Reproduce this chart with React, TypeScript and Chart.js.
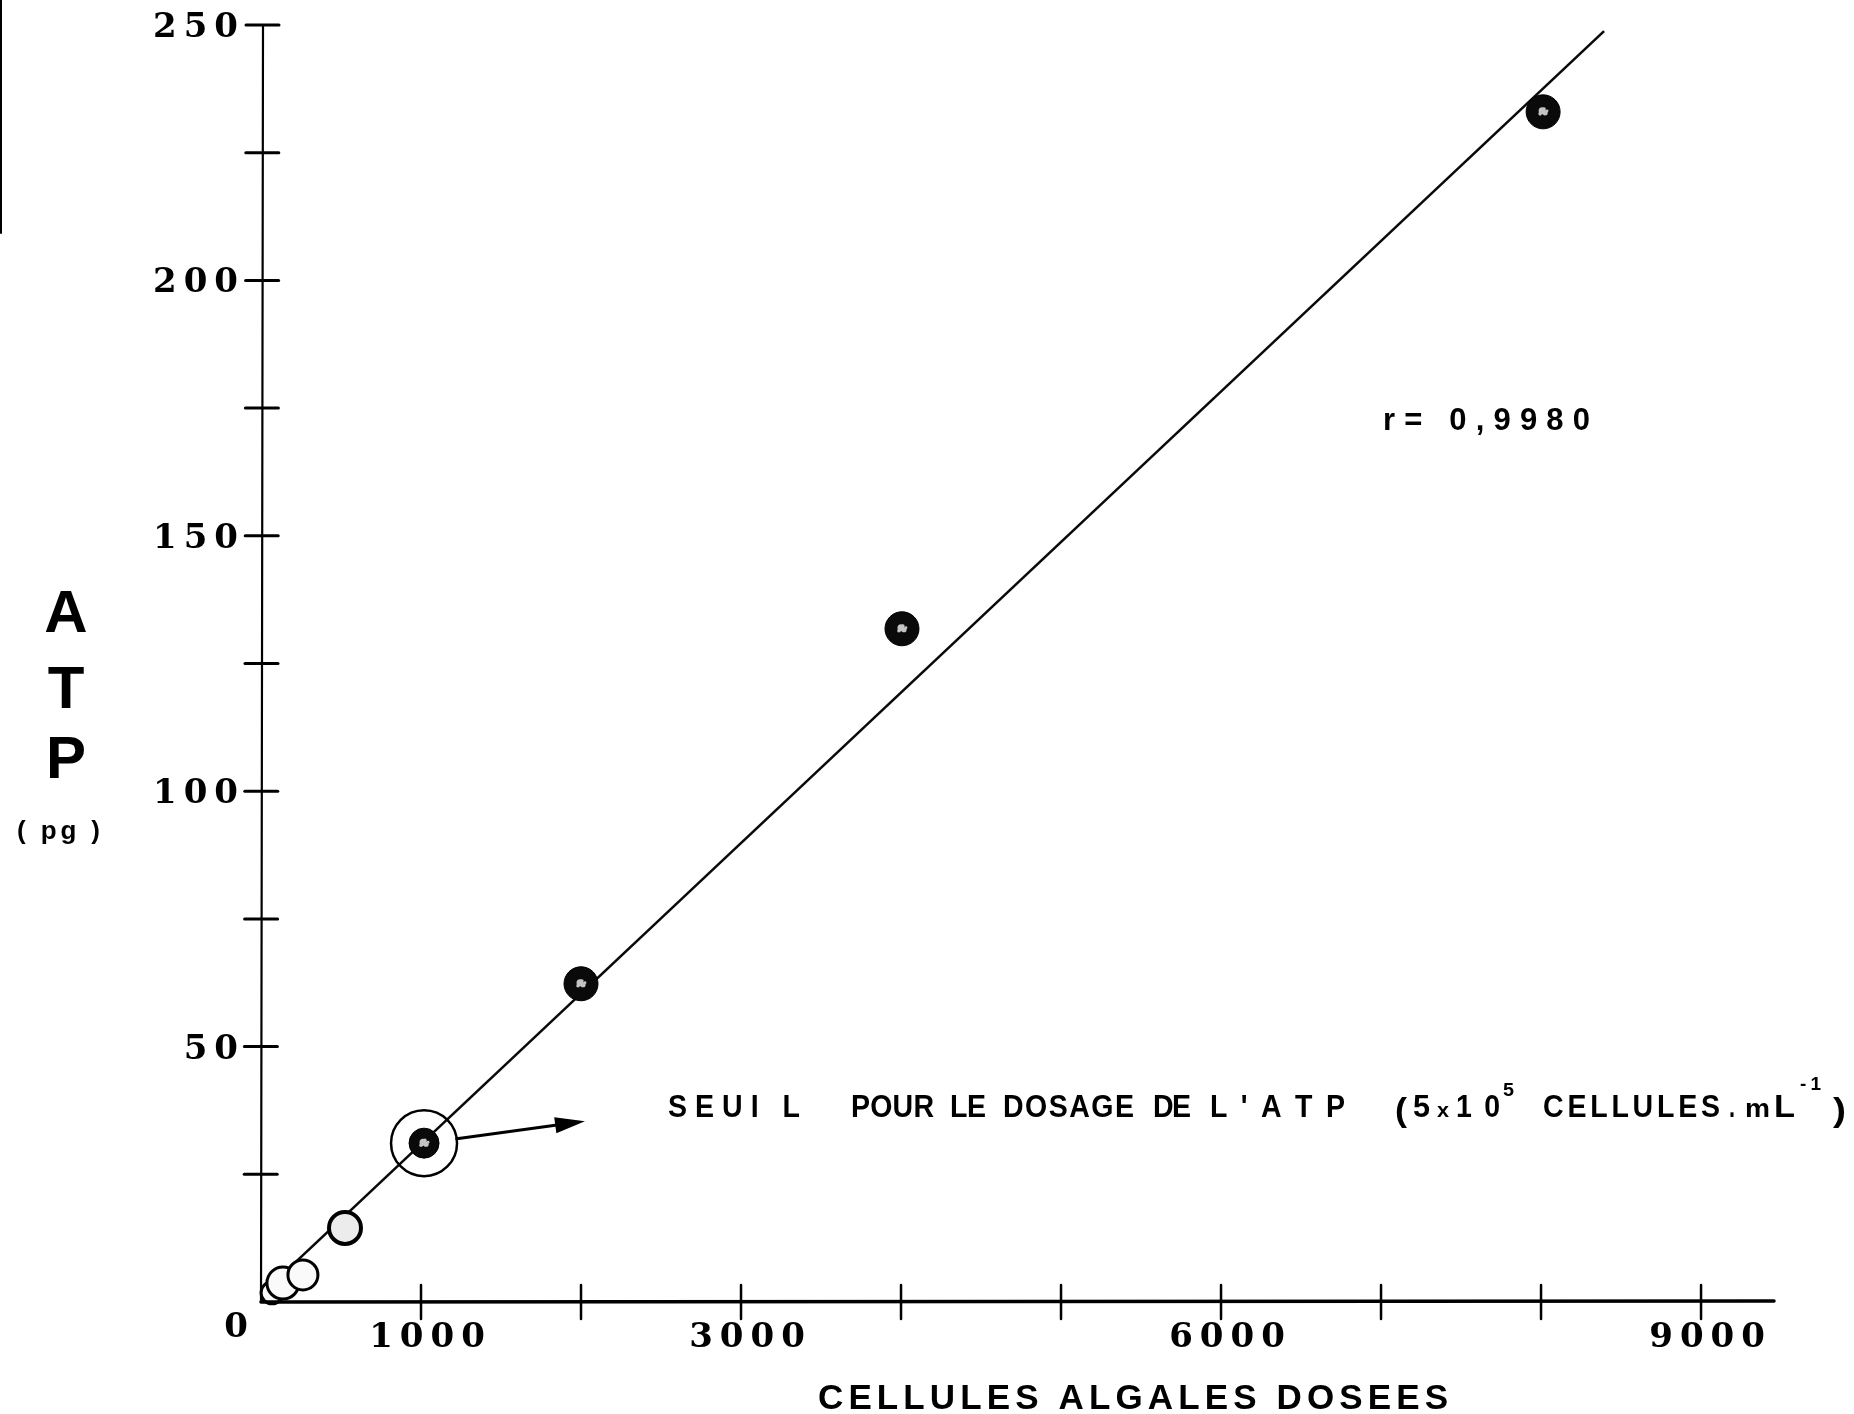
import React, { useEffect, useRef } from 'react';
import { Chart, registerables } from 'chart.js';
Chart.register(...registerables);

// ---- data ----
const cellCounts = [69, 137, 262, 525, 1019, 2000, 4006, 8013];
const atpPg = [1.8, 3.7, 5.3, 14.5, 31.1, 62.3, 131.8, 233.0];
const pointRadii = [11, 16, 15, 16, 15, 17, 17, 17];
const pointFills = ['#fafafa', '#fafafa', '#fafafa', '#ececec', '#0a0a0a', '#0a0a0a', '#0a0a0a', '#0a0a0a'];
const pointBorders = [3, 3, 3, 4, 1, 1, 1, 1];
const regressionX = [60, 8394];
const regressionY = [3.2, 248.8];
const thresholdIndex = 4;
const arrowTipX = 2025;
const arrowTipY = 35.4;

const xMin = 0;
const xMax = 9456;
const yMin = 0;
const yMax = 250;
const xTickValues = [1000, 2000, 3000, 4000, 5000, 6000, 7000, 8000, 9000];
const xTickLabels = ['1000', '', '3000', '', '', '6000', '', '', '9000'];
const yTickValues = [25, 50, 75, 100, 125, 150, 175, 200, 225, 250];
const yTickLabels = ['', '50', '', '100', '', '150', '', '200', '', '250'];

const yTitleLetters = ['A', 'T', 'P'];
const yTitleUnit = '( pg )';
const xTitle = 'CELLULES ALGALES DOSEES';
const corrText = 'r= 0,9980';

function spacedWidth(ctx: CanvasRenderingContext2D, text: string, sp: number, sx = 1) {
  let w = 0;
  for (const ch of text) w += ctx.measureText(ch).width * sx;
  return w + sp * (Array.from(text).length - 1);
}
function drawSpaced(ctx: CanvasRenderingContext2D, text: string, x: number, y: number, align: string, sp: number, sx = 1) {
  const w = spacedWidth(ctx, text, sp, sx);
  let cx = align === 'center' ? x - w / 2 : align === 'right' ? x - w : x;
  ctx.textAlign = 'left';
  for (const ch of text) {
    ctx.save();
    ctx.translate(cx, y);
    ctx.scale(sx, 1);
    ctx.fillText(ch, 0, 0);
    ctx.restore();
    cx += ctx.measureText(ch).width * sx + sp;
  }
}
function drawSpacedFit(ctx: CanvasRenderingContext2D, text: string, x0: number, x1: number, y: number, sx = 1) {
  const chars = Array.from(text);
  let w = 0;
  for (const ch of chars) w += ctx.measureText(ch).width * sx;
  if (chars.length === 1) {
    drawSpaced(ctx, text, x0, y, 'left', 0, (x1 - x0) / (w / sx));
    return;
  }
  const sp = (x1 - x0 - w) / (chars.length - 1);
  drawSpaced(ctx, text, x0, y, 'left', sp, sx);
}

const decorPlugin = {
  id: 'decor',
  afterDatasetsDraw(chart: any) {
    const ctx: CanvasRenderingContext2D = chart.ctx;
    const xs = chart.scales.x;
    const ys = chart.scales.y;
    const x0 = xs.getPixelForValue(0);
    const y0 = ys.getPixelForValue(0);
    ctx.save();
    ctx.strokeStyle = '#000';
    ctx.fillStyle = '#000';
    ctx.lineCap = 'round';

    // axes
    ctx.lineWidth = 2.2;
    ctx.beginPath();
    ctx.moveTo(x0 + 2, ys.getPixelForValue(yMax));
    ctx.lineTo(x0, y0);
    ctx.stroke();
    ctx.lineWidth = 3.5;
    ctx.beginPath();
    ctx.moveTo(x0, y0);
    ctx.lineTo(xs.getPixelForValue(xMax), y0 - 1);
    ctx.stroke();

    // y ticks
    ctx.lineWidth = 3;
    yTickValues.forEach((v) => {
      const py = ys.getPixelForValue(v);
      const ax = x0 + 2 * (v / yMax);
      ctx.beginPath();
      ctx.moveTo(ax - 17, py);
      ctx.lineTo(ax + 16, py);
      ctx.stroke();
    });
    // x ticks
    ctx.lineWidth = 2.5;
    xTickValues.forEach((v) => {
      const px = xs.getPixelForValue(v);
      ctx.beginPath();
      ctx.moveTo(px, y0 - 17);
      ctx.lineTo(px, y0 + 17);
      ctx.stroke();
    });

    // tick labels
    ctx.font = 'bold 34px "DejaVu Serif"';
    ctx.textBaseline = 'alphabetic';
    yTickValues.forEach((v, i) => {
      if (!yTickLabels[i]) return;
      drawSpaced(ctx, yTickLabels[i], 238, ys.getPixelForValue(v) + 12, 'right', 7);
    });
    xTickValues.forEach((v, i) => {
      if (!xTickLabels[i]) return;
      drawSpaced(ctx, xTickLabels[i], xs.getPixelForValue(v) + 6, y0 + 45, 'center', 7);
    });
    drawSpaced(ctx, '0', x0 - 25, y0 + 35, 'center', 0);

    // threshold ring + arrow
    const meta = chart.getDatasetMeta(0);
    const pt = meta.data[thresholdIndex];
    const cx = pt.x;
    const cy = pt.y;
    ctx.lineWidth = 2.5;
    ctx.beginPath();
    ctx.arc(cx, cy, 33, 0, Math.PI * 2);
    ctx.stroke();
    const tx = xs.getPixelForValue(arrowTipX);
    const ty = ys.getPixelForValue(arrowTipY);
    const ang = Math.atan2(ty - cy, tx - cx);
    const sx = cx + 33 * Math.cos(ang);
    const sy = cy + 33 * Math.sin(ang);
    const hx = tx - 30 * Math.cos(ang);
    const hy = ty - 30 * Math.sin(ang);
    ctx.lineWidth = 3;
    ctx.beginPath();
    ctx.moveTo(sx, sy);
    ctx.lineTo(hx, hy);
    ctx.stroke();
    ctx.beginPath();
    ctx.moveTo(tx, ty);
    ctx.lineTo(hx + 8 * Math.sin(ang), hy - 8 * Math.cos(ang));
    ctx.lineTo(hx - 8 * Math.sin(ang), hy + 8 * Math.cos(ang));
    ctx.closePath();
    ctx.fill();

    // speckled highlights on dark points
    ctx.fillStyle = '#c4c4c4';
    const spots = [[-1, -1, 3.5], [2, 1, 2.6], [-3, 2, 1.8], [1, -3, 1.6], [4, -1, 1.4]];
    meta.data.forEach((el: any, i: number) => {
      if (pointFills[i] !== '#0a0a0a') return;
      spots.forEach(([dx, dy, r]) => {
        ctx.beginPath();
        ctx.arc(el.x + dx, el.y + dy, r, 0, Math.PI * 2);
        ctx.fill();
      });
    });

    // annotation text
    ctx.fillStyle = '#000';
    ctx.font = 'bold 31px "Liberation Sans"';
    const base = 1117;
    const cs = 0.92;
    drawSpacedFit(ctx, 'SEUI L', 668, 800, base, cs);
    drawSpacedFit(ctx, 'POUR', 851, 934, base, cs);
    drawSpacedFit(ctx, 'LE', 950, 986, base, cs);
    drawSpacedFit(ctx, 'DOSAGE', 1003, 1134, base, cs);
    drawSpacedFit(ctx, 'DE', 1153, 1191, base, cs);
    drawSpacedFit(ctx, "L'ATP", 1210, 1345, base, cs);
    ctx.font = 'bold 34px "Liberation Sans"';
    drawSpacedFit(ctx, '(', 1395, 1407, base + 4);
    ctx.font = 'bold 31px "Liberation Sans"';
    drawSpacedFit(ctx, '5', 1413, 1430, base);
    ctx.font = 'bold 20px "Liberation Sans"';
    drawSpacedFit(ctx, 'x', 1437, 1449, base);
    ctx.font = 'bold 31px "Liberation Sans"';
    drawSpacedFit(ctx, '10', 1456, 1500, base, cs);
    ctx.font = 'bold 19px "Liberation Sans"';
    drawSpacedFit(ctx, '5', 1503, 1514, base - 21);
    ctx.font = 'bold 31px "Liberation Sans"';
    drawSpacedFit(ctx, 'CELLULES', 1543, 1720, base, cs);
    drawSpacedFit(ctx, '.', 1729, 1735, base);
    ctx.font = 'bold 26px "Liberation Sans"';
    drawSpacedFit(ctx, 'm', 1745, 1770, base);
    ctx.font = 'bold 31px "Liberation Sans"';
    drawSpacedFit(ctx, 'L', 1774, 1795, base);
    ctx.font = 'bold 19px "Liberation Sans"';
    drawSpacedFit(ctx, '-1', 1800, 1821, base - 27);
    ctx.font = 'bold 34px "Liberation Sans"';
    drawSpacedFit(ctx, ')', 1833, 1846, base + 4);

    // correlation
    ctx.font = 'bold 31px "Liberation Sans"';
    drawSpacedFit(ctx, corrText, 1383, 1590, 430);

    // axis titles
    ctx.font = 'bold 35px "Liberation Sans"';
    drawSpacedFit(ctx, xTitle, 818, 1448, 1409);
    ctx.font = 'bold 60px "Liberation Sans"';
    const ys3 = [632, 708, 778];
    yTitleLetters.forEach((l, i) => drawSpaced(ctx, l, 66, ys3[i], 'center', 0));
    ctx.font = 'bold 26px "Liberation Sans"';
    drawSpacedFit(ctx, yTitleUnit, 17, 100, 839);

    // scan edge line at left border
    ctx.lineWidth = 2;
    ctx.beginPath();
    ctx.moveTo(1, 0);
    ctx.lineTo(1, 233);
    ctx.stroke();

    ctx.restore();
  },
};

export default function App() {
  const ref = useRef<HTMLCanvasElement | null>(null);
  useEffect(() => {
    if (!ref.current) return;
    const chart = new Chart(ref.current, {
      type: 'scatter',
      data: {
        datasets: [
          {
            label: 'ATP',
            data: cellCounts.map((x, i) => ({ x, y: atpPg[i] })),
            pointRadius: pointRadii,
            pointBackgroundColor: pointFills,
            pointBorderColor: '#000',
            pointBorderWidth: pointBorders,
            order: 0,
            clip: false as any,
          },
          {
            label: 'regression',
            data: regressionX.map((x, i) => ({ x, y: regressionY[i] })),
            showLine: true,
            borderColor: '#0a0a0a',
            borderWidth: 2.6,
            pointRadius: 0,
            order: 1,
            clip: false as any,
          },
        ],
      },
      options: {
        responsive: false,
        devicePixelRatio: 1,
        animation: false,
        layout: { padding: { left: 261, right: 80, top: 25, bottom: 112 } },
        plugins: { legend: { display: false }, tooltip: { enabled: false } },
        scales: {
          x: { type: 'linear', min: xMin, max: xMax, display: false },
          y: { type: 'linear', min: yMin, max: yMax, display: false },
        },
      },
      plugins: [decorPlugin],
    } as any);
    return () => chart.destroy();
  }, []);
  return (
    <div style={{ position: 'fixed', left: 0, top: 0, width: 1854, height: 1414, background: '#fff' }}>
      <canvas ref={ref} width={1854} height={1414} style={{ display: 'block' }} />
    </div>
  );
}
